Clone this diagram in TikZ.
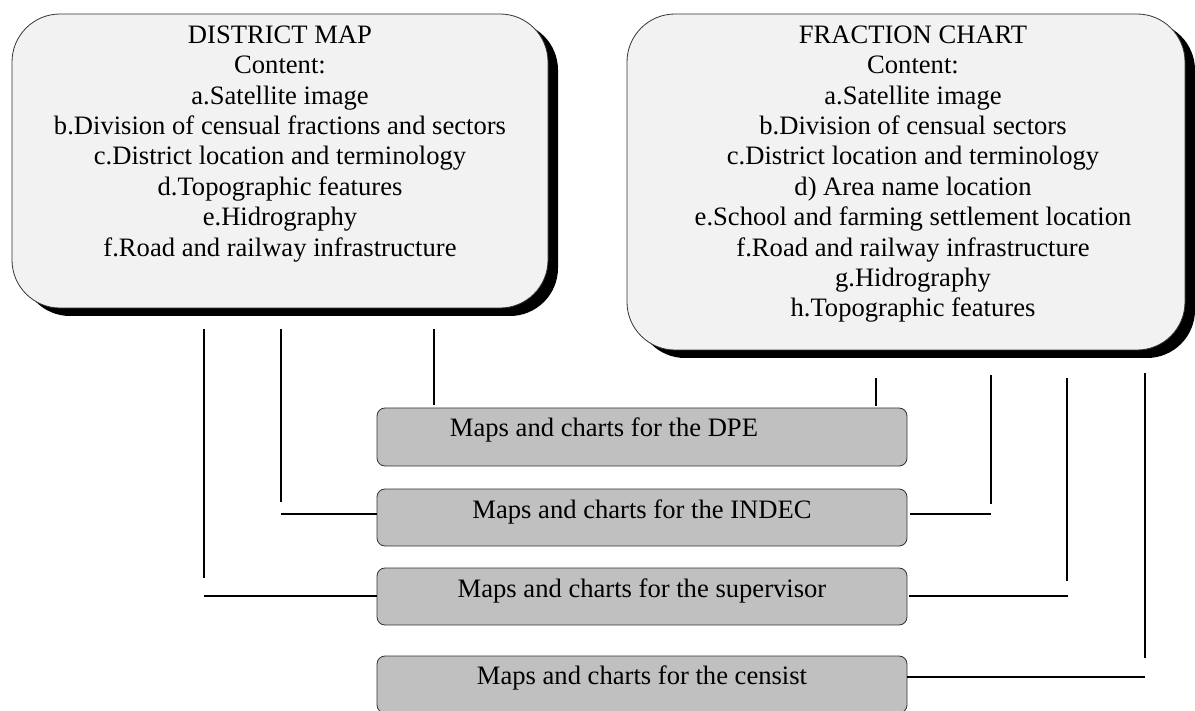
\documentclass[tikz,border=0pt]{standalone}
\usepackage{fontspec}
\setmainfont{Liberation Serif}
\usetikzlibrary{shadows,calc}

\definecolor{panelfill}{HTML}{F2F2F2}
\definecolor{itemfill}{HTML}{C0C0C0}
\definecolor{edgegray}{HTML}{333333}

\tikzset{
  panel/.style={draw=edgegray, line width=0.8pt, fill=panelfill, rounded corners=48pt,
    inner sep=0pt, drop shadow={shadow xshift=10pt, shadow yshift=-8pt, fill=black, opacity=1}},
  paneltext/.style={anchor=north, align=center, inner sep=0pt,
    font=\fontsize{26.6}{30.4}\selectfont},
  itembox/.style={draw=edgegray, line width=0.8pt, fill=itemfill, rounded corners=8pt,
    inner sep=0pt, minimum width=530pt, minimum height=57pt},
  itemtext/.style={anchor=base, inner sep=0pt, font=\fontsize{26.6}{30.4}\selectfont},
  link/.style={line width=1.5pt, black}
}

\begin{document}
\begin{tikzpicture}[x=1pt, y=-1pt]
\useasboundingbox (0,0) rectangle (1195,711);

% the two source panels
\node[panel, minimum width=536pt, minimum height=294pt] (district) at (280,161) {};
\node[panel, minimum width=558pt, minimum height=336pt] (fraction) at (906,182) {};

\node[paneltext] (districttext) at (280,25.5) {DISTRICT MAP\\Content:\\a.Satellite image\\
b.Division of censual fractions and sectors\\c.District location and terminology\\
d.Topographic features\\e.Hidrography\\f.Road and railway infrastructure};

\node[paneltext] (fractiontext) at (913,25.5) {FRACTION CHART\\Content:\\a.Satellite image\\
b.Division of censual sectors\\c.District location and terminology\\d) Area name location\\
e.School and farming settlement location\\f.Road and railway infrastructure\\
g.Hidrography\\h.Topographic features};

% the four product boxes
\node[itembox, minimum height=58pt] (dpe) at (642,437) {};
\node[itembox] (indec) at (642,517.5) {};
\node[itembox] (sup) at (642,596.5) {};
\node[itembox] (cen) at (642,684.5) {};

\node[itemtext] (dpetext) at (604,437) {Maps and charts for the DPE};
\node[itemtext] (indectext) at (642,518) {Maps and charts for the INDEC};
\node[itemtext] (suptext) at (642,597) {Maps and charts for the supervisor};
\node[itemtext] (centext) at (642,684) {Maps and charts for the censist};

% connector end points
\coordinate (la) at (434,329);
\coordinate (lb) at (281,329);
\coordinate (lbturn) at (281,502);
\coordinate (lbh) at (281,514);
\coordinate (lc) at (204,329);
\coordinate (lcturn) at (204,578);
\coordinate (lch) at (204,596);

\coordinate (ra) at (876,378);
\coordinate (rb) at (991,375);
\coordinate (rbturn) at (991,504);
\coordinate (rbh) at (991,514);
\coordinate (rc) at (1067,378);
\coordinate (rcturn) at (1067,581);
\coordinate (rch) at (1068,596);
\coordinate (rd) at (1145,373);
\coordinate (rdturn) at (1145,658);
\coordinate (rdh) at (1145,677);

% district map links
\draw[link] (la) -- ($(la |- dpe.north)+(0,-3)$);
\draw[link] (lb) -- (lbturn);
\draw[link] (lbh) -- (lbh -| indec.west);
\draw[link] (lc) -- (lcturn);
\draw[link] (lch) -- (lch -| sup.west);

% fraction chart links
\draw[link] (ra) -- ($(ra |- dpe.north)+(0,-2)$);
\draw[link] (rb) -- (rbturn);
\draw[link] (rbh) -- ($(rbh -| indec.east)+(3,0)$);
\draw[link] (rc) -- (rcturn);
\draw[link] (rch) -- ($(rch -| sup.east)+(2,0)$);
\draw[link] (rd) -- (rdturn);
\draw[link] (rdh) -- (rdh -| cen.east);
\end{tikzpicture}
\end{document}
